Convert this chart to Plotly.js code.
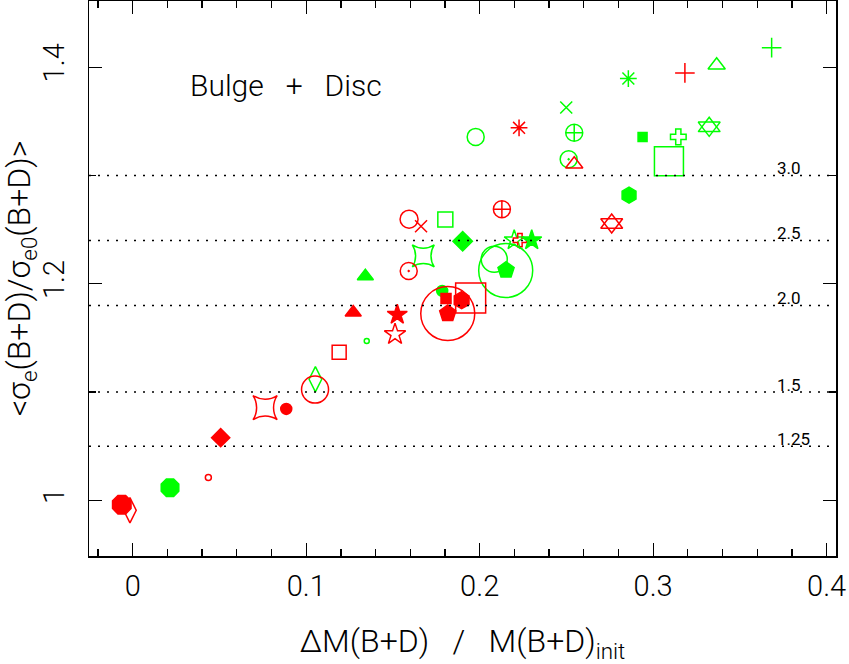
<!DOCTYPE html>
<html>
<head>
<meta charset="utf-8">
<script src="https://cdn.plot.ly/plotly-3.0.1.min.js"></script>
<style>html,body{margin:0;padding:0;background:#fff;}#plot{width:849px;height:664px;}</style>
</head>
<body>
<div id="plot"></div>
<script>
// Data: fractional mass change vs mean velocity-dispersion ratio
const dMfrac = [0.1977,0.2227,0.2499,0.2545,0.2513,0.2545,0.2857,0.3183,0.3366,0.3683,
  0.2939,0.3145,0.3323,0.3091,0.2861,0.2761,0.1593,0.1662,0.1802,0.2128,
  0.1902,0.2199,0.2232,0.2300,0.1675,0.1341,0.1591,0.2150,0.2084,0.2152,
  0.1784,0.1806,0.1896,0.1948,0.1816,0.1816,0.1271,0.1525,0.1512,0.1349,
  0.1190,0.1053,0.1051,0.0763,0.0885,0.0507,0.0436,0.0215,-0.0016,-0.0063];
const sigmaRatio = [1.3356,1.3440,1.3627,1.3395,1.3150,1.3104,1.3895,1.3947,1.4018,1.4180,
  1.3356,1.3356,1.3449,1.3132,1.2818,1.2556,1.2596,1.2531,1.2593,1.2688,
  1.2393,1.2402,1.2402,1.2402,1.2257,1.2069,1.2118,1.2122,1.2226,1.2125,
  1.1934,1.1863,1.1848,1.1869,1.1725,1.1725,1.1734,1.1715,1.1533,1.1472,
  1.1367,1.1118,1.1023,1.0856,1.0844,1.0579,1.0212,1.0117,0.9908,0.9960];
// group of each point: 'G' (green) or 'R' (red)
const group = ['G','R','G','G','G','R','G','R','G','G',
  'G','G','G','G','G','R','R','R','G','R',
  'G','G','R','G','G','G','R','G','G','G',
  'G','R','R','R','R','R','R','R','R','G',
  'R','G','R','R','R','R','R','G','R','R'];
// reference lines and their labels
const refLevels = [1.30,1.24,1.18,1.10,1.05];
const refLabels = ['3.0','2.5','2.0','1.5','1.25'];
const xTicks = [0,0.1,0.2,0.3,0.4];
const xTickText = ['0','0.1','0.2','0.3','0.4'];
const yTicks = [1,1.2,1.4];
const yTickText = ['1','1.2','1.4'];

// styles (kept apart from the data); 'david' = two overlapping open triangles
const symbols = ['circle-open','asterisk-open','x-thin-open','circle-cross-open','circle-open-dot','triangle-up-open','asterisk-open','cross-thin-open','triangle-up-open','cross-thin-open',
  'square','cross-open','david','square-open','hexagon','david','circle-open','x-thin-open','square-open','circle-cross-open',
  'diamond','star-open','cross-open','star','star-square-open','triangle-up','circle-open-dot','circle-open','circle-open','pentagon',
  'circle','square','hexagon','square-open','pentagon','circle-open','triangle-up','star','star-open','circle-open',
  'square-open','diamond-tall-open','circle-open','star-square-open','circle','diamond','circle-open','octagon','diamond-tall-open','octagon'];
const sizes = [17,14,12,17,17,15,14,14,15,14,
  9,13,19,29,16,19,18,12,15,17,
  15,15,11,15,20,14,17,54,26,17,
  11,10,17,30,17,54,14,15,16,5,
  14,18,27,22,11,14,6,19,18,20];
const palette = {G:'#00ff00', R:'#ff0000'};

// expand 'david' into an up and a down open triangle at the same data point
const px = [], py = [], ps = [], pz = [], pc = [];
dMfrac.forEach((xv, i) => {
  const parts = symbols[i] === 'david' ? ['triangle-up-open','triangle-down-open'] : [symbols[i]];
  parts.forEach(s => { px.push(xv); py.push(sigmaRatio[i]); ps.push(s); pz.push(sizes[i]); pc.push(palette[group[i]]); });
});

const trace = {
  x: px, y: py, type:'scatter', mode:'markers',
  marker:{symbol:ps, size:pz, color:pc, opacity:1, line:{color:pc, width:1.5}},
  hoverinfo:'x+y', showlegend:false
};

const font = 'Roboto, Liberation Sans, Arial, sans-serif';
const W = 300;
const shapes = refLevels.map(v => ({type:'line', xref:'paper', x0:0, x1:1, yref:'y', y0:v, y1:v,
  line:{color:'#000', width:1.5, dash:'2px,7px'}}));
const annotations = refLevels.map((v,i) => ({xref:'x', yref:'y', x:0.3702, y:v, text:refLabels[i],
  showarrow:false, xanchor:'left', yanchor:'bottom', yshift:-5, font:{family:font, weight:400, size:17, color:'#000'}}));
annotations.push({xref:'x', yref:'y', x:0.0319, y:1.3834, text:'Bulge   +   Disc', showarrow:false,
  xanchor:'left', yanchor:'middle', font:{family:font, weight:W, size:30, color:'#000'}});

const layout = {
  width:849, height:664,
  margin:{l:89, r:13, t:1, b:108},
  paper_bgcolor:'#fff', plot_bgcolor:'#fff',
  xaxis:{range:[-0.0252,0.4054], tickvals:xTicks, ticktext:xTickText, ticks:'inside', ticklen:13, tickwidth:1.3,
    tickcolor:'#000', minor:{dtick:0.02, ticks:'inside', ticklen:7, tickcolor:'#000', tickwidth:1.3, showgrid:false},
    showline:true, linecolor:'#000', linewidth:1.5, mirror:'ticks', showgrid:false, zeroline:false,
    ticklabelstandoff:4, tickfont:{family:font, weight:W, size:29, color:'#000'},
    title:{text:'ΔM(B+D)   /   M(B+D)<sub>init</sub>', standoff:36, font:{family:font, weight:W, size:32, color:'#000'}}},
  yaxis:{range:[0.9486,1.4611], tickvals:yTicks, ticktext:yTickText, ticks:'inside', ticklen:13, tickwidth:1.3,
    tickcolor:'#000', minor:{dtick:0.1, ticks:'inside', ticklen:7, tickcolor:'#000', tickwidth:1.3, showgrid:false},
    showline:true, linecolor:'#000', linewidth:1.5, mirror:'ticks', showgrid:false, zeroline:false,
    tickangle:-90, ticklabelstandoff:12, tickfont:{family:font, weight:W, size:29, color:'#000'},
    title:{text:'&lt;σ<sub>e</sub>(B+D)/σ<sub>e0</sub>(B+D)&gt;', standoff:8, font:{family:font, weight:W, size:32, color:'#000'}}},
  shapes:shapes, annotations:annotations
};
Plotly.newPlot('plot', [trace], layout, {displayModeBar:false, staticPlot:true});
</script>
</body>
</html>
